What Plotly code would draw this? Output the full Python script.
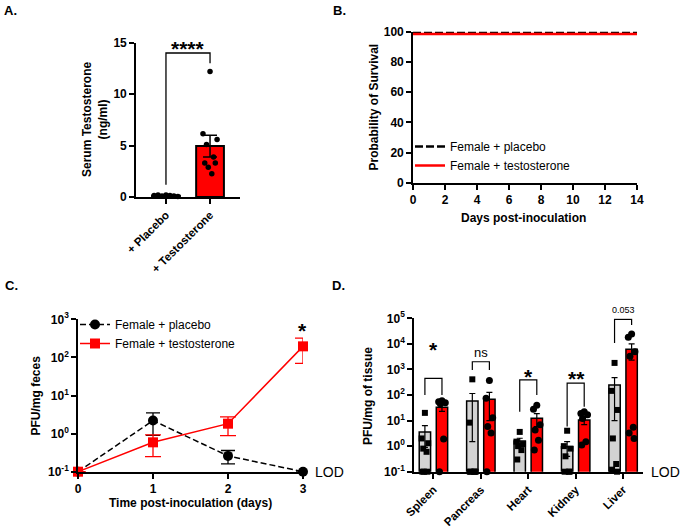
import plotly.graph_objects as go
import numpy as np

W, H = 680, 526
FONT = "Liberation Sans, Arial, sans-serif"

# ---------------- Panel A data ----------------
a_groups = ["+ Placebo", "+ Testosterone"]
a_means = [0.13, 4.95]
a_sem = [0.03, 1.05]
a_placebo_pts = [0.15, 0.2, 0.1, 0.2, 0.15, 0.1, 0.05]
a_testo_pts = [12.2, 6.15, 5.6, 5.1, 3.9, 3.3, 3.3, 2.9, 2.25]

# ---------------- Panel B data ----------------
b_days = [0, 14]
b_placebo = [100, 100]
b_testo = [98.5, 98.5]

# ---------------- Panel C data ----------------
c_days = [0, 1, 2, 3]
c_placebo = [0.1, 2.2, 0.26, 0.1]
c_placebo_sem = [0, 1.3, 0.1, 0]
c_testo = [0.1, 0.59, 1.82, 195]
c_testo_sem = [0, 0.34, 0.93, 125]

# ---------------- Panel D data ----------------
d_tissues = ["Spleen", "Pancreas", "Heart", "Kidney", "Liver"]
d_placebo_mean = [3.6, 58, 1.58, 0.95, 245]
d_placebo_sem = [2.7, 56.5, 0.45, 0.55, 235]
d_testo_mean = [33, 68, 12.3, 10.5, 6150]
d_testo_sem = [10, 58, 6.5, 3.5, 3850]
d_placebo_pts = [
    [20, 2.0, 1.3, 0.8, 0.6, 0.1, 0.1, 0.1],
    [410, 8.3, 0.1, 0.1, 0.1, 0.1, 0.1],
    [3.6, 1.5, 1.2, 1.0, 0.7, 0.3],
    [4.0, 1.0, 0.8, 0.4, 0.1, 0.1, 0.1],
    [1800, 145, 26, 2.0, 0.2, 0.12, 0.1],
]
d_testo_pts = [
    [60, 55, 50, 45, 1.9, 0.1],
    [365, 75, 13, 5.8, 3.3, 0.1],
    [40, 28, 6.8, 4.3, 1.7, 0.7],
    [22, 19, 17, 12, 1.5, 1.1],
    [24500, 18000, 4900, 3300, 5.5, 3.3, 2.0],
]

# ---------------- helpers ----------------
def px(x):
    return x / W

def py(y):
    return 1 - y / H

PATTERN = [0, -1, 1, -0.5, 0.5, -0.75, 0.75, -0.25, 0.25]

def spread(n, half):
    return [PATTERN[k % len(PATTERN)] * half for k in range(n)]

def ann(text, x, y, size, bold=False, angle=0, xanchor="center", yanchor="middle", yshift=0):
    return dict(text=text, x=px(x), y=py(y), xref="paper", yref="paper", showarrow=False,
                font=dict(family=FONT, size=size, color="black", weight=700 if bold else 400),
                textangle=angle, xanchor=xanchor, yanchor=yanchor, yshift=yshift)

fig = go.Figure()

# ---------- Panel A ----------
fig.add_trace(go.Bar(x=[0, 1], y=a_means, width=0.63,
                     marker=dict(color=["white", "#ff0000"], line=dict(color="black", width=2)),
                     error_y=dict(type="data", array=a_sem, color="black", thickness=1.5, width=7),
                     xaxis="x", yaxis="y", showlegend=False))
fig.add_trace(go.Scatter(x=list(np.linspace(-0.27, 0.27, len(a_placebo_pts))), y=a_placebo_pts,
                         mode="markers", marker=dict(color="black", size=5.5),
                         xaxis="x", yaxis="y", showlegend=False, cliponaxis=False))
fig.add_trace(go.Scatter(x=[1 + d for d in spread(len(a_testo_pts), 0.16)], y=a_testo_pts,
                         mode="markers", marker=dict(color="black", size=5.5),
                         xaxis="x", yaxis="y", showlegend=False, cliponaxis=False))
fig.add_trace(go.Scatter(x=[0, 0, 1, 1], y=[1.2, 14, 14, 13], mode="lines",
                         line=dict(color="black", width=1.3), xaxis="x", yaxis="y",
                         showlegend=False, hoverinfo="skip", cliponaxis=False))

# ---------- Panel B ----------
fig.add_trace(go.Scatter(x=b_days, y=b_placebo, mode="lines", name="Female + placebo",
                         line=dict(color="black", width=2.5, dash="8px,3px"),
                         xaxis="x2", yaxis="y2", legend="legend", cliponaxis=False))
fig.add_trace(go.Scatter(x=b_days, y=b_testo, mode="lines", name="Female + testosterone",
                         line=dict(color="#ff0000", width=2.5),
                         xaxis="x2", yaxis="y2", legend="legend", cliponaxis=False))

# ---------- Panel C ----------
fig.add_trace(go.Scatter(x=c_days, y=c_placebo, mode="lines+markers", name="Female + placebo",
                         line=dict(color="black", width=1.5, dash="6px,3px"),
                         marker=dict(symbol="circle", size=10, color="black"),
                         error_y=dict(type="data", array=c_placebo_sem, color="black", thickness=1.3, width=7),
                         xaxis="x3", yaxis="y3", legend="legend2", cliponaxis=False))
fig.add_trace(go.Scatter(x=c_days, y=c_testo, mode="lines+markers", name="Female + testosterone",
                         line=dict(color="#ff0000", width=1.5),
                         marker=dict(symbol="square", size=10, color="#ff0000"),
                         error_y=dict(type="data", array=c_testo_sem, color="#ff0000", thickness=1.3, width=8),
                         xaxis="x3", yaxis="y3", legend="legend2", cliponaxis=False))

# ---------- Panel D ----------
OFF = 0.18
BW = 0.24
idx = list(range(len(d_tissues)))
fig.add_trace(go.Bar(x=idx, y=d_placebo_mean, width=BW, offset=-OFF - BW / 2,
                     marker=dict(color="#d3d3d3", line=dict(color="black", width=1.5)),
                     error_y=dict(type="data", array=d_placebo_sem, color="black", thickness=1.2, width=3),
                     xaxis="x4", yaxis="y4", showlegend=False))
fig.add_trace(go.Bar(x=idx, y=d_testo_mean, width=BW, offset=OFF - BW / 2,
                     marker=dict(color="#ff0000", line=dict(color="black", width=1.5)),
                     error_y=dict(type="data", array=d_testo_sem, color="black", thickness=1.2, width=3),
                     xaxis="x4", yaxis="y4", showlegend=False))
px_x, px_y, tx_x, tx_y = [], [], [], []
for i in idx:
    for d, v in zip(spread(len(d_placebo_pts[i]), 0.07), d_placebo_pts[i]):
        px_x.append(i - OFF + d); px_y.append(v)
    for d, v in zip(spread(len(d_testo_pts[i]), 0.07), d_testo_pts[i]):
        tx_x.append(i + OFF + d); tx_y.append(v)
fig.add_trace(go.Scatter(x=px_x, y=px_y, mode="markers", marker=dict(symbol="square", size=6, color="black"),
                         xaxis="x4", yaxis="y4", showlegend=False, cliponaxis=False))
fig.add_trace(go.Scatter(x=tx_x, y=tx_y, mode="markers", marker=dict(symbol="circle", size=7, color="black"),
                         xaxis="x4", yaxis="y4", showlegend=False, cliponaxis=False))

# brackets (left leg bottom, top, right leg bottom)
d_brackets = [(100, 447, 100), (950, 2000, 950), (22, 390, 100), (5.8, 290, 35), (10700, 91000, 55000)]
for i, (l, t, r) in enumerate(d_brackets):
    fig.add_trace(go.Scatter(x=[i - OFF, i - OFF, i + OFF, i + OFF], y=[l, t, t, r], mode="lines",
                             line=dict(color="black", width=1.2), xaxis="x4", yaxis="y4",
                             showlegend=False, hoverinfo="skip", cliponaxis=False))

# ---------- axes ----------
tickfont = dict(family=FONT, size=12, color="black", weight=700)
catfont = dict(family=FONT, size=11.5, color="black", weight=700)
common = dict(showline=True, linecolor="black", linewidth=1.6, ticks="outside", ticklen=5,
              tickwidth=1.6, tickcolor="black", showgrid=False, zeroline=False,
              automargin=False)

def sup(e):
    return "10<sup>%d</sup>" % e

fig.update_layout(
    width=W, height=H, autosize=False,
    margin=dict(l=0, r=0, t=0, b=0, pad=0, autoexpand=False),
    paper_bgcolor="white", plot_bgcolor="white", barmode="overlay",
    xaxis=dict(domain=[px(136), px(240)], anchor="y", range=[-0.68, 1.68],
               tickvals=[0, 1], ticktext=a_groups, tickangle=-45, tickfont=catfont, **common),
    yaxis=dict(domain=[py(197), py(42.7)], anchor="x", range=[0, 15],
               tickvals=[0, 5, 10, 15], tickfont=tickfont, **common),
    xaxis2=dict(domain=[px(413), px(637)], anchor="y2", range=[0, 14], dtick=2, tickfont=tickfont, **common),
    yaxis2=dict(domain=[py(183), py(31.7)], anchor="x2", range=[0, 100], dtick=20, tickfont=tickfont, **common),
    xaxis3=dict(domain=[px(78), px(303)], anchor="y3", range=[0, 3], dtick=1, tickfont=tickfont, **common),
    yaxis3=dict(domain=[py(471.7), py(319.3)], anchor="x3", type="log", range=[-1, 3], tickfont=tickfont,
                tickvals=[10.0 ** e for e in range(-1, 4)], ticktext=[sup(e) for e in range(-1, 4)], **common),
    xaxis4=dict(domain=[px(414), px(643)], anchor="y4", range=[-0.41, 4.42], tickfont=catfont,
                tickvals=idx, ticktext=d_tissues, tickangle=-45, **common),
    yaxis4=dict(domain=[py(471.7), py(318.3)], anchor="x4", type="log", range=[-1, 5], tickfont=tickfont,
                tickvals=[10.0 ** e for e in range(-1, 6)], ticktext=[sup(e) for e in range(-1, 6)], **common),
    legend=dict(x=px(410), y=py(132), xanchor="left", yanchor="top", bgcolor="rgba(0,0,0,0)",
                font=dict(family=FONT, size=12, color="black"), itemwidth=30),
    legend2=dict(x=px(75), y=py(310), xanchor="left", yanchor="top", bgcolor="rgba(0,0,0,0)",
                 font=dict(family=FONT, size=12, color="black"), itemwidth=30),
)

annotations = [
    ann("A.", 2, 1, 13, bold=True, xanchor="left", yanchor="top"),
    ann("B.", 331, 1, 13, bold=True, xanchor="left", yanchor="top"),
    ann("C.", 3, 276, 13, bold=True, xanchor="left", yanchor="top"),
    ann("D.", 330, 276, 13, bold=True, xanchor="left", yanchor="top"),
    ann("Serum Testosterone<br>(ng/ml)", 95, 120, 12, bold=True, angle=-90),
    ann("Probability of Survival", 373, 107.5, 12, bold=True, angle=-90),
    ann("Days post-inoculation", 523, 218, 12, bold=True),
    ann("PFU/mg feces", 35, 395.5, 12, bold=True, angle=-90),
    ann("Time post-inoculation (days)", 190, 503, 12, bold=True),
    ann("PFU/mg of tissue", 368, 396, 12, bold=True, angle=-90),
    ann("LOD", 313, 472, 14, xanchor="left"),
    ann("LOD", 649, 472, 14, xanchor="left"),
    ann("****", 188, 42, 21, bold=True, yshift=-6),
    ann("*", 302, 324.7, 21, bold=True, yshift=-6),
    ann("*", 433, 343, 21, bold=True, yshift=-6),
    ann("ns", 481, 352, 13),
    ann("*", 528, 370.7, 21, bold=True, yshift=-6),
    ann("**", 576, 372.7, 21, bold=True, yshift=-6),
    ann("0.053", 623, 310.3, 9),
]
fig.update_layout(annotations=annotations)

fig.write_html("out.html", config={"displayModeBar": False},
               post_script="document.body.style.margin='0';")
